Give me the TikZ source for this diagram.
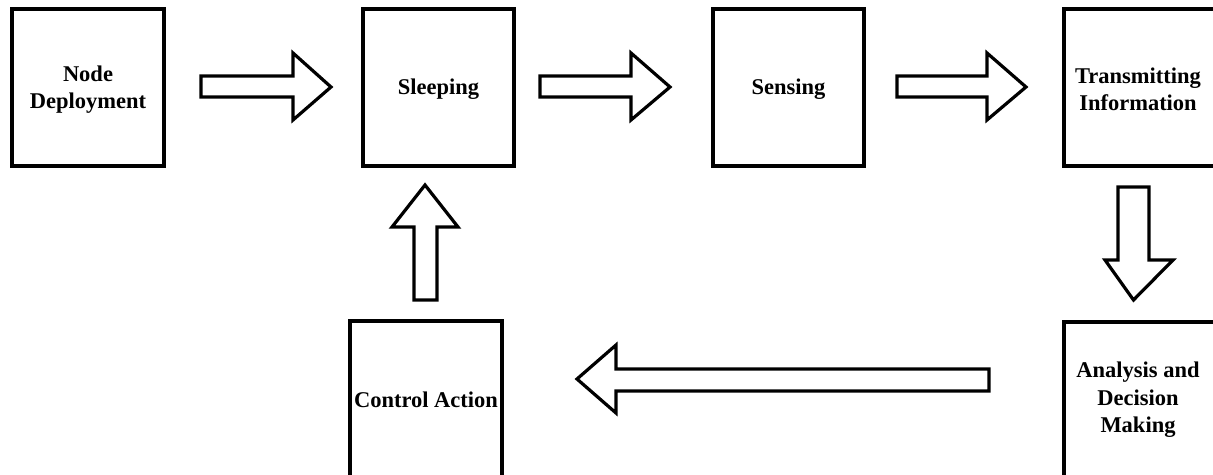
\documentclass[tikz,border=0pt]{standalone}
\usepackage{fontspec}
\setmainfont{Liberation Serif}
\begin{document}
\begin{tikzpicture}[x=1pt,y=-1pt,
  box/.style={draw,line width=3.2pt,fill=white,inner sep=0pt},
  lbl/.style={font=\bfseries\fontsize{22.5}{27.5}\selectfont,align=center},
  blockarrow/.style={draw,line width=3.2pt,fill=white,line join=miter}]
\useasboundingbox (0,0) rectangle (1213,474);
\clip (0,0) rectangle (1213,474);
% boxes
\draw[box] (12,9) rectangle (164,166);
\node[lbl] (n1) at (88,89.5) {Node\\Deployment};
\draw[box] (363,9) rectangle (514,166);
\node[lbl] (n2) at (438.5,89.5) {Sleeping};
\draw[box] (713,9) rectangle (864,166);
\node[lbl] (n3) at (788.5,89.5) {Sensing};
\draw[box] (1064,9) rectangle (1216,166);
\node[lbl] (n4) at (1138,89.5) {Transmitting\\Information};
\draw[box] (1064,322) rectangle (1216,480);
\node[lbl] (n5) at (1138,400) {Analysis and\\Decision\\Making};
\draw[box] (350,321) rectangle (502,480);
\node[lbl] (n6) at (426,400) {Control Action};
% block arrows
\draw[blockarrow] (201,76) -- (293,76) -- (293,53) -- (331,87) -- (293,120) -- (293,97) -- (201,97) -- cycle;
\draw[blockarrow] (540,76) -- (631,76) -- (631,53) -- (670,87) -- (631,120) -- (631,97) -- (540,97) -- cycle;
\draw[blockarrow] (897,76) -- (987,76) -- (987,53) -- (1026,87) -- (987,120) -- (987,97) -- (897,97) -- cycle;
\draw[blockarrow] (1118,187) -- (1149,187) -- (1149,260) -- (1173,260) -- (1133.5,300) -- (1105,260) -- (1118,260) -- cycle;
\draw[blockarrow] (989,369) -- (616,369) -- (616,345) -- (577,379) -- (616,413) -- (616,391) -- (989,391) -- cycle;
\draw[blockarrow] (414,300) -- (414,227) -- (392,227) -- (425,185) -- (458,227) -- (437,227) -- (437,300) -- cycle;
\end{tikzpicture}
\end{document}
